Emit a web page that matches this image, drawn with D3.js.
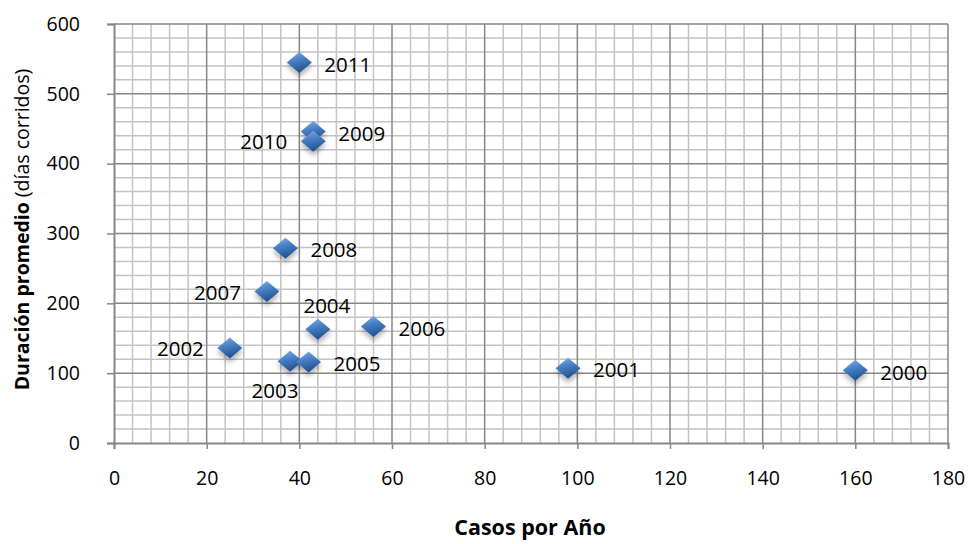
<!DOCTYPE html>
<html>
<head>
<meta charset="utf-8">
<script src="https://cdn.jsdelivr.net/npm/d3@7"></script>
<style>
  body { margin: 0; background: #fff; }
  text { font-family: "Open Sans", sans-serif; fill: #000; }
</style>
</head>
<body>
<svg width="969" height="544"></svg>
<script>
const years = ["2000","2001","2002","2003","2004","2005","2006","2007","2008","2009","2010","2011"]
const casos = [160, 98, 25, 38, 44, 42, 56, 33, 37, 43, 43, 40]
const duracion = [104, 107, 136, 117, 163, 116, 167, 217, 279, 446, 432, 545]
// where each label sits relative to its point
const labelPos = ["right","right","left","below","above","right","right","left","right","right","left","right"]

const xTicks = [0, 20, 40, 60, 80, 100, 120, 140, 160, 180]
const yTicks = [0, 100, 200, 300, 400, 500, 600]

const svg = d3.select("svg"),
    margin = {top:24, right:21, bottom:101, left:114},
    width = +svg.attr("width") - margin.left - margin.right,
    height = +svg.attr("height") - margin.top - margin.bottom;

const defs = svg.append("defs");
const grad = defs.append("linearGradient")
    .attr("id", "dia")
    .attr("x1", "0").attr("y1", "0").attr("x2", "0.3").attr("y2", "1");
grad.append("stop").attr("offset", "0").attr("stop-color", "#8cb4e6");
grad.append("stop").attr("offset", "0.45").attr("stop-color", "#4a82c8");
grad.append("stop").attr("offset", "1").attr("stop-color", "#23538f");

const shadow = defs.append("filter").attr("id", "shadow")
    .attr("x", "-50%").attr("y", "-50%").attr("width", "200%").attr("height", "200%");
shadow.append("feDropShadow")
    .attr("dx", 0).attr("dy", 4).attr("stdDeviation", 2.5)
    .attr("flood-color", "#000").attr("flood-opacity", 0.3);

const g = svg.append("g")
    .attr("transform", `translate(${margin.left},${margin.top})`);

const x = d3.scaleLinear().domain([0, 180]).range([0, width]);
const y = d3.scaleLinear().domain([0, 600]).range([height, 0]);

// minor grid
g.append("g")
    .selectAll("line")
    .data(d3.range(0, 181, 4).filter(v => v % 20 !== 0))
    .join("line")
    .attr("x1", d => x(d)).attr("x2", d => x(d))
    .attr("y1", 0).attr("y2", height)
    .attr("stroke", "#c3c3c3").attr("stroke-width", 1.5);

g.append("g")
    .selectAll("line")
    .data(d3.range(0, 601, 20).filter(v => v % 100 !== 0))
    .join("line")
    .attr("x1", 0).attr("x2", width)
    .attr("y1", d => y(d)).attr("y2", d => y(d))
    .attr("stroke", "#c3c3c3").attr("stroke-width", 1.5);

// major grid
g.append("g")
    .selectAll("line")
    .data(xTicks.slice(1))
    .join("line")
    .attr("x1", d => x(d)).attr("x2", d => x(d))
    .attr("y1", 0).attr("y2", height)
    .attr("stroke", "#878787").attr("stroke-width", 1.5);

g.append("g")
    .selectAll("line")
    .data(yTicks.slice(1))
    .join("line")
    .attr("x1", 0).attr("x2", width)
    .attr("y1", d => y(d)).attr("y2", d => y(d))
    .attr("stroke", "#878787").attr("stroke-width", 1.5);

// axes
const xAxis = g.append("g")
    .attr("transform", `translate(0,${height})`)
    .call(d3.axisBottom(x).tickValues(xTicks).tickSize(6).tickPadding(22));
const yAxis = g.append("g")
    .call(d3.axisLeft(y).tickValues(yTicks).tickSize(7).tickPadding(27));

[xAxis, yAxis].forEach(a => {
    a.select(".domain").attr("stroke", "#878787").attr("stroke-width", 2);
    a.selectAll(".tick line").attr("stroke", "#878787").attr("stroke-width", 1.5);
    a.selectAll(".tick text")
        .style("font-family", "'Open Sans', sans-serif")
        .style("font-size", "19.5px")
        .attr("fill", "#000");
});

const pts = years.map((yr, i) => ({year: yr, x: casos[i], y: duracion[i], pos: labelPos[i]}));

// diamonds
g.selectAll("path.pt")
    .data(pts)
    .join("path")
    .attr("class", "pt")
    .attr("d", "M0,-10.5 L12.5,0 L0,10.5 L-12.5,0 Z")
    .attr("transform", d => `translate(${x(d.x)},${y(d.y)})`)
    .attr("fill", "url(#dia)")
    .attr("filter", "url(#shadow)");

// labels
const off = {
    right: [25, 2, "start"],
    left: [-26, 1, "end"],
    above: [9, -23, "middle"],
    below: [-15, 30, "middle"]
};
g.selectAll("text.lbl")
    .data(pts)
    .join("text")
    .attr("class", "lbl")
    .attr("x", d => x(d.x) + off[d.pos][0])
    .attr("y", d => y(d.y) + off[d.pos][1])
    .attr("dy", "0.35em")
    .attr("text-anchor", d => off[d.pos][2])
    .style("font-size", "20.5px")
    .text(d => d.year);

// titles
svg.append("text")
    .attr("x", margin.left + width / 2 - 1)
    .attr("y", 535)
    .attr("text-anchor", "middle")
    .style("font-size", "21.5px")
    .style("font-weight", "bold")
    .text("Casos por Año");

const yt = svg.append("text")
    .attr("transform", `translate(29,${margin.top + height / 2 - 4}) rotate(-90)`)
    .attr("text-anchor", "middle")
    .style("font-size", "19.5px");
yt.append("tspan").style("font-weight", "bold").text("Duración promedio");
yt.append("tspan").text(" (días corridos)");
</script>
</body>
</html>
